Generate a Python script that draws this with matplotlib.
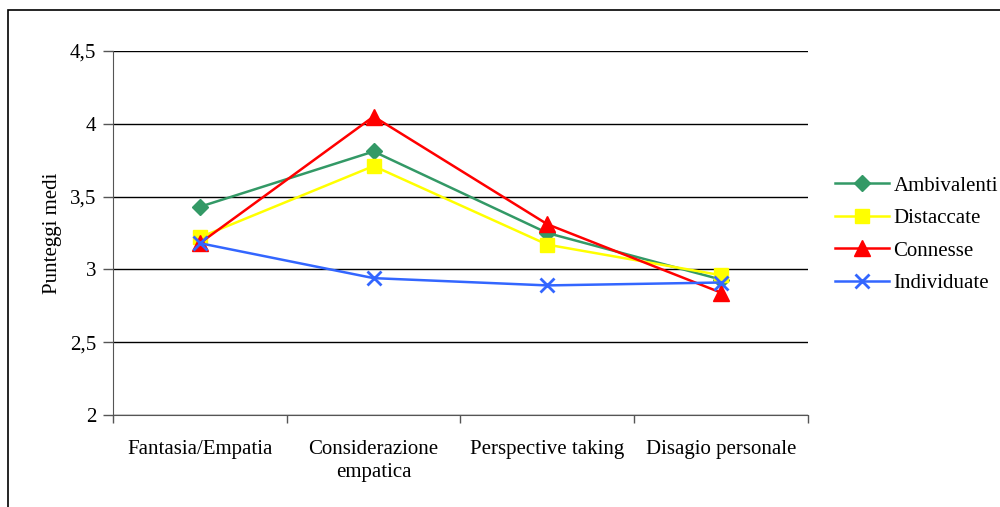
import matplotlib
matplotlib.use("Agg")
import matplotlib.pyplot as plt
from matplotlib.patches import Rectangle

categories = ["Fantasia/Empatia", "Considerazione\nempatica", "Perspective taking", "Disagio personale"]
series_names = ["Ambivalenti", "Distaccate", "Connesse", "Individuate"]
ambivalenti = [3.43, 3.81, 3.25, 2.93]
distaccate = [3.22, 3.71, 3.17, 2.96]
connesse = [3.18, 4.05, 3.31, 2.84]
individuate = [3.18, 2.94, 2.89, 2.91]
y_ticks = [2, 2.5, 3, 3.5, 4, 4.5]
y_tick_labels = ["2", "2,5", "3", "3,5", "4", "4,5"]

plt.rcParams['font.family'] = ['Liberation Serif', 'DejaVu Serif']
FS = 15

fig = plt.figure(figsize=(10, 5.07), dpi=100)
W, H = 1000, 507
ax = fig.add_axes([113 / W, 1 - 415 / H, (808 - 113) / W, (415 - 51) / H])

styles = [
    dict(color="#339966", marker="D", ms=8.5),
    dict(color="#FFFF00", marker="s", ms=10),
    dict(color="#FF0000", marker="^", ms=11),
    dict(color="#3366FF", marker="x", ms=10, mew=2),
]
data = [ambivalenti, distaccate, connesse, individuate]
x = list(range(len(categories)))
handles = []
for name, vals, st in zip(series_names, data, styles):
    st = dict(st)
    mew = st.pop("mew", 1)
    h, = ax.plot(x, vals, lw=1.8, label=name, color=st["color"], marker=st["marker"],
                 ms=st["ms"], mec=st["color"], mfc=st["color"], mew=mew, clip_on=False, zorder=3)
    handles.append(h)

ax.set_xlim(-0.5, len(categories) - 0.5)
ax.set_ylim(2, 4.5)
ax.set_yticks(y_ticks)
ax.set_yticklabels(y_tick_labels, fontsize=FS)
ax.yaxis.grid(True, color="black", lw=1.0)
ax.set_axisbelow(True)
ax.set_xticks([i - 0.5 for i in range(len(categories) + 1)])
ax.set_xticklabels([])
ax.set_xticks(x, minor=True)
ax.set_xticklabels(categories, minor=True, fontsize=FS, linespacing=1.25)
ax.tick_params(axis="x", which="minor", length=0, pad=18)
ax.tick_params(axis="x", which="major", direction="out", length=6, width=1, color="#555555")
ax.tick_params(axis="y", direction="out", length=7, width=1, pad=5, color="#555555")
for s in ["top", "right"]:
    ax.spines[s].set_visible(False)
ax.spines["left"].set_color("#555555")
ax.spines["bottom"].set_color("#555555")
ax.set_ylabel("Punteggi medi", fontsize=FS, labelpad=6)

fig.legend(handles=handles, loc="upper left", bbox_to_anchor=(835 / W, 1 - 176 / H),
           frameon=False, fontsize=FS, handlelength=2.6, handletextpad=0.2,
           labelspacing=0.62, borderaxespad=0, borderpad=0)

fig.patches.append(Rectangle((8 / W, -0.1), 1.2, (1 - 10 / H) + 0.1, transform=fig.transFigure,
                             fill=False, edgecolor="black", lw=1.2))

fig.savefig("out.png", dpi=100)
